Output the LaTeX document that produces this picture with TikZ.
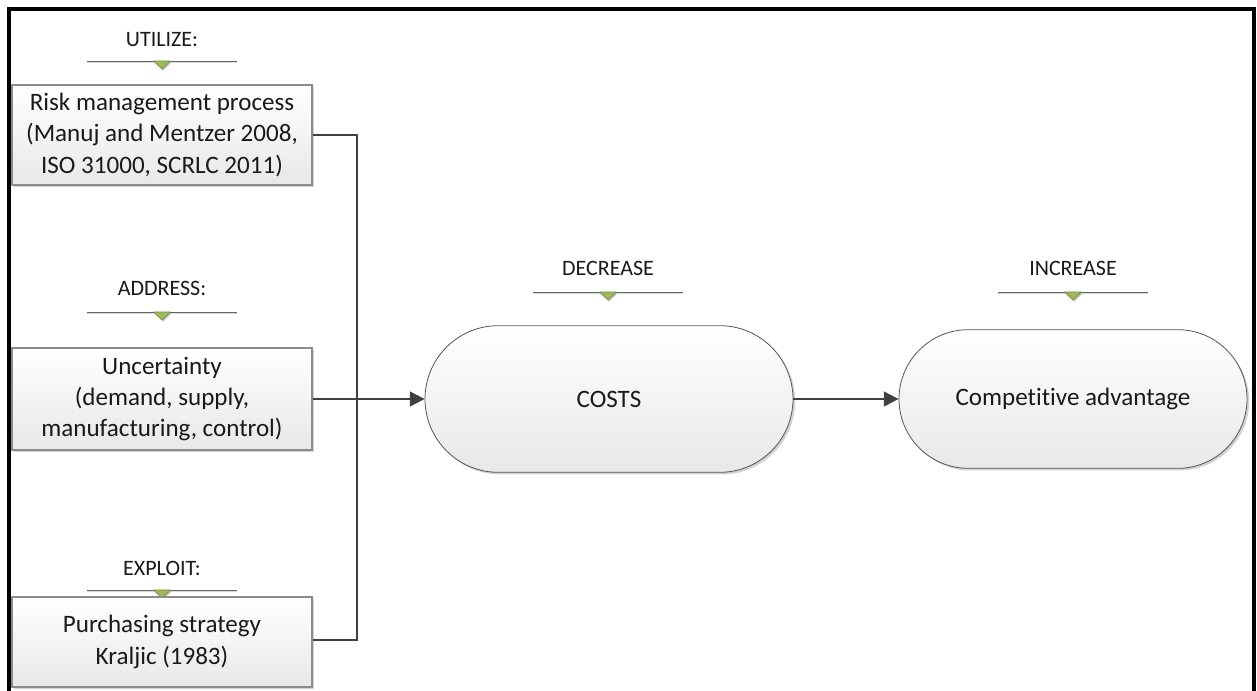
\documentclass[tikz,border=0pt]{standalone}
\usepackage{fontspec}
\setmainfont[Ligatures=NoCommon]{Carlito}
\usetikzlibrary{arrows.meta,shadows}
\definecolor{conncol}{HTML}{404040}
\definecolor{boxline}{HTML}{8C8C8C}
\definecolor{pillline}{HTML}{555555}
\definecolor{mkgreen}{HTML}{9BBB59}
\definecolor{mkline}{HTML}{71893F}
\definecolor{txt}{HTML}{1A1A1A}
\tikzset{
  boxstyle/.style={draw=boxline, line width=0.8pt, top color=white, bottom color=black!9,
    minimum width=225pt, align=center, text=txt,
    font=\fontsize{18.8}{23.5}\selectfont, inner sep=0pt,
    drop shadow={shadow xshift=1.6pt, shadow yshift=-1.6pt, fill=black!35, opacity=0.5}},
  pillstyle/.style={draw=pillline, line width=0.6pt, top color=white, bottom color=black!9,
    align=center, text=txt, font=\fontsize{18.8}{23.5}\selectfont, inner sep=0pt,
    drop shadow={shadow xshift=1.6pt, shadow yshift=-1.6pt, fill=black!35, opacity=0.5}},
  lbltext/.style={text=txt, font=\fontsize{16.5}{19}\selectfont, inner sep=0pt},
  lblline/.style={draw=black!60, line width=0.6pt},
  lblshadow/.style={draw=black!15, line width=0.8pt},
  marker/.style={fill=mkgreen, draw=mkline, line width=0.4pt, line join=round},
  conn/.style={draw=conncol, line width=1.5pt},
  arrowtip/.style={-{Triangle[length=11pt,width=11pt]}},
  frame/.style={draw=black, line width=2.3pt}
}
\newcommand\mklabel[5]{%
  \node[lbltext] (#1) at (#2,#3) {#5};
  \draw[lblshadow] (#2-75,#4+1.5) -- (#2+75,#4+1.5);
  \draw[lblline] (#2-75,#4) -- (#2+75,#4);
  \fill[black!25] (#2-7.5,#4+1.5) -- (#2+9.5,#4+1.5) -- (#2+1,#4+9.5) -- cycle;
  \path[marker] (#2-8.5,#4) -- (#2+8.5,#4) -- (#2,#4+8) -- cycle;
}
\begin{document}
\begin{tikzpicture}[x=0.75pt,y=-0.75pt]
\useasboundingbox (0,0) rectangle (1257,690);
\fill[white] (0,0) rectangle (1257,690);
% frame
\draw[frame] (9,692) -- (9,9) -- (1254,9) -- (1254,692);

% labels
\mklabel{lutil}{162}{40}{61}{UTILIZE:}
\mklabel{laddr}{162}{288}{312}{ADDRESS:}
\mklabel{lexpl}{162}{568}{590}{EXPLOIT:}
\mklabel{ldecr}{608}{268}{292}{DECREASE}
\mklabel{lincr}{1073}{268}{292}{INCREASE}

% boxes
\node[boxstyle, minimum height=75pt] (b1) at (162,135)
  {Risk management process\\(Manuj and Mentzer 2008,\\ISO 31000, SCRLC 2011)};
\node[boxstyle, minimum height=76.5pt] (b2) at (162,399)
  {Uncertainty\\(demand, supply,\\manufacturing, control)};
\node[boxstyle, minimum height=67.5pt] (b3) at (162,642)
  {Purchasing strategy\\Kraljic (1983)};

% pills
\node[pillstyle, minimum width=276pt, minimum height=110pt, rounded corners=55pt] (costs) at (609,399) {COSTS};
\node[pillstyle, minimum width=261pt, minimum height=104pt, rounded corners=52pt] (comp) at (1073,399) {Competitive advantage};

% connectors
\coordinate (j) at (357,399);
\draw[conn] (b1.east) -| (j);
\draw[conn] (b3.east |- 0,640) -| (j);
\draw[conn, arrowtip] (b2.east) -- (costs.west);
\draw[conn, arrowtip] (costs.east) -- (comp.west);
\end{tikzpicture}
\end{document}
